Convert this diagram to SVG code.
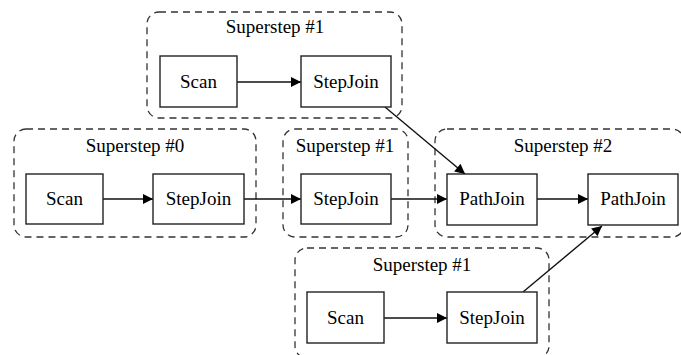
<svg xmlns="http://www.w3.org/2000/svg" width="681" height="355" viewBox="0 0 681 355">
<defs>
<style>
.cl{fill:none;stroke:#333;stroke-width:1.3;stroke-dasharray:7,5}
.nd{fill:#fff;stroke:#222;stroke-width:1.4}
.t{font-family:'Liberation Serif','Times New Roman',serif;font-size:19px;fill:#000;text-anchor:middle}
.e{fill:none;stroke:#111;stroke-width:1.4;marker-end:url(#ah)}
</style>
<marker id="ah" viewBox="0 0 10 10" refX="10" refY="5" markerWidth="13" markerHeight="10" markerUnits="userSpaceOnUse" orient="auto">
<path d="M0,0 L10,5 L0,10 z" fill="#000"/>
</marker>
</defs>
<rect width="681" height="355" fill="#fff"/>
<g id="cluster-top">
<rect class="cl" x="147" y="12" width="255" height="106" rx="12"/>
<text class="t" x="275" y="33" font-family="Liberation Serif, serif">Superstep #1</text>
</g>
<g id="cluster-s0">
<rect class="cl" x="14" y="129" width="242" height="108" rx="12"/>
<text class="t" x="135" y="152" font-family="Liberation Serif, serif">Superstep #0</text>
</g>
<g id="cluster-mid">
<rect class="cl" x="283" y="129" width="125" height="108" rx="12"/>
<text class="t" x="345" y="152" font-family="Liberation Serif, serif">Superstep #1</text>
</g>
<g id="cluster-s2">
<rect class="cl" x="435" y="129" width="249" height="108" rx="12"/>
<text class="t" x="563" y="152" font-family="Liberation Serif, serif">Superstep #2</text>
</g>
<g id="cluster-bot">
<rect class="cl" x="295" y="248" width="254" height="110" rx="12"/>
<text class="t" x="422" y="271" font-family="Liberation Serif, serif">Superstep #1</text>
</g>
<g id="edges">
<path class="e" d="M237,82 L301,82"/>
<path class="e" d="M385,107 L465,174"/>
<path class="e" d="M103,199 L153,199"/>
<path class="e" d="M244,199 L301,199"/>
<path class="e" d="M391,199 L447,199"/>
<path class="e" d="M537,199 L588,199"/>
<path class="e" d="M384,318 L447,318"/>
<path class="e" d="M523,292 L602,226"/>
</g>
<g id="n-top-scan"><rect class="nd" x="160" y="56" width="77" height="51"/><text class="t" x="198.5" y="88" font-family="Liberation Serif, serif">Scan</text></g>
<g id="n-top-stepjoin"><rect class="nd" x="301" y="56" width="90" height="51"/><text class="t" x="346" y="88" font-family="Liberation Serif, serif">StepJoin</text></g>
<g id="n-s0-scan"><rect class="nd" x="26" y="174" width="77" height="50"/><text class="t" x="64.5" y="205" font-family="Liberation Serif, serif">Scan</text></g>
<g id="n-s0-stepjoin"><rect class="nd" x="153" y="174" width="91" height="50"/><text class="t" x="198.5" y="205" font-family="Liberation Serif, serif">StepJoin</text></g>
<g id="n-mid-stepjoin"><rect class="nd" x="301" y="174" width="90" height="50"/><text class="t" x="346" y="205" font-family="Liberation Serif, serif">StepJoin</text></g>
<g id="n-pathjoin1"><rect class="nd" x="447" y="174" width="90" height="51"/><text class="t" x="492" y="205" font-family="Liberation Serif, serif">PathJoin</text></g>
<g id="n-pathjoin2"><rect class="nd" x="588" y="174" width="90" height="51"/><text class="t" x="633" y="205" font-family="Liberation Serif, serif">PathJoin</text></g>
<g id="n-bot-scan"><rect class="nd" x="307" y="292" width="77" height="51"/><text class="t" x="345.5" y="324" font-family="Liberation Serif, serif">Scan</text></g>
<g id="n-bot-stepjoin"><rect class="nd" x="447" y="292" width="90" height="51"/><text class="t" x="492" y="324" font-family="Liberation Serif, serif">StepJoin</text></g>
</svg>
